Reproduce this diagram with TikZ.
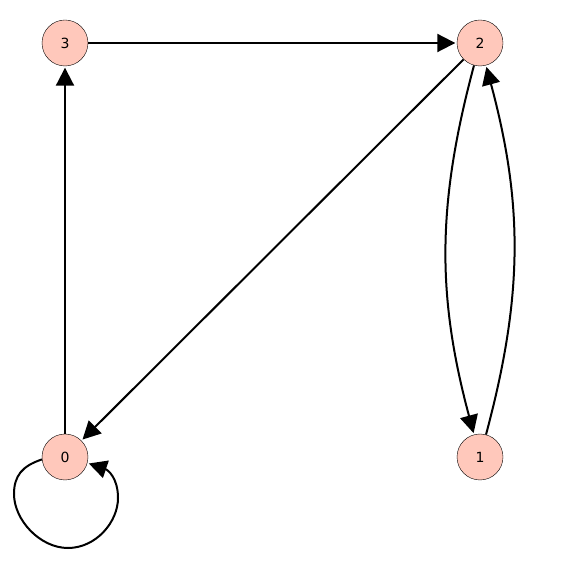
\documentclass[tikz,border=0pt]{standalone}
\usepackage{fontspec}
\setmainfont{DejaVu Sans}
\usetikzlibrary{arrows.meta}
\definecolor{vfill}{RGB}{255,200,187}
\begin{document}
\begin{tikzpicture}[x=1pt,y=1pt,>={Triangle[length=18pt,width=18pt]},
  vertex/.style={circle,draw,fill=vfill,minimum size=46pt,inner sep=0pt,font=\fontsize{14}{14}\selectfont},
  edge/.style={->,line width=2pt,shorten >=1.5pt}]
 \useasboundingbox (0,0) rectangle (562,570);
 \node[vertex] (v0) at (65,113) {0};
 \node[vertex] (v1) at (480,113) {1};
 \node[vertex] (v2) at (480,527) {2};
 \node[vertex] (v3) at (65,527) {3};
 \draw[edge] (v3) -- (v2);
 \draw[edge] (v2) -- (v0);
 \draw[edge] (v0) -- (v3);
 \draw[edge] (v2) to[bend right=15] (v1);
 \draw[edge] (v1) to[bend right=15] (v2);
 % loop at 0
 \draw[edge] (v0.186) .. controls (22,104) and (14,94) .. (14,76)
   .. controls (14,50) and (40,22) .. (68,22)
   .. controls (96,22) and (118,48) .. (118,72)
   .. controls (118,92) and (108,100) .. (v0.-15);
\end{tikzpicture}
\end{document}
